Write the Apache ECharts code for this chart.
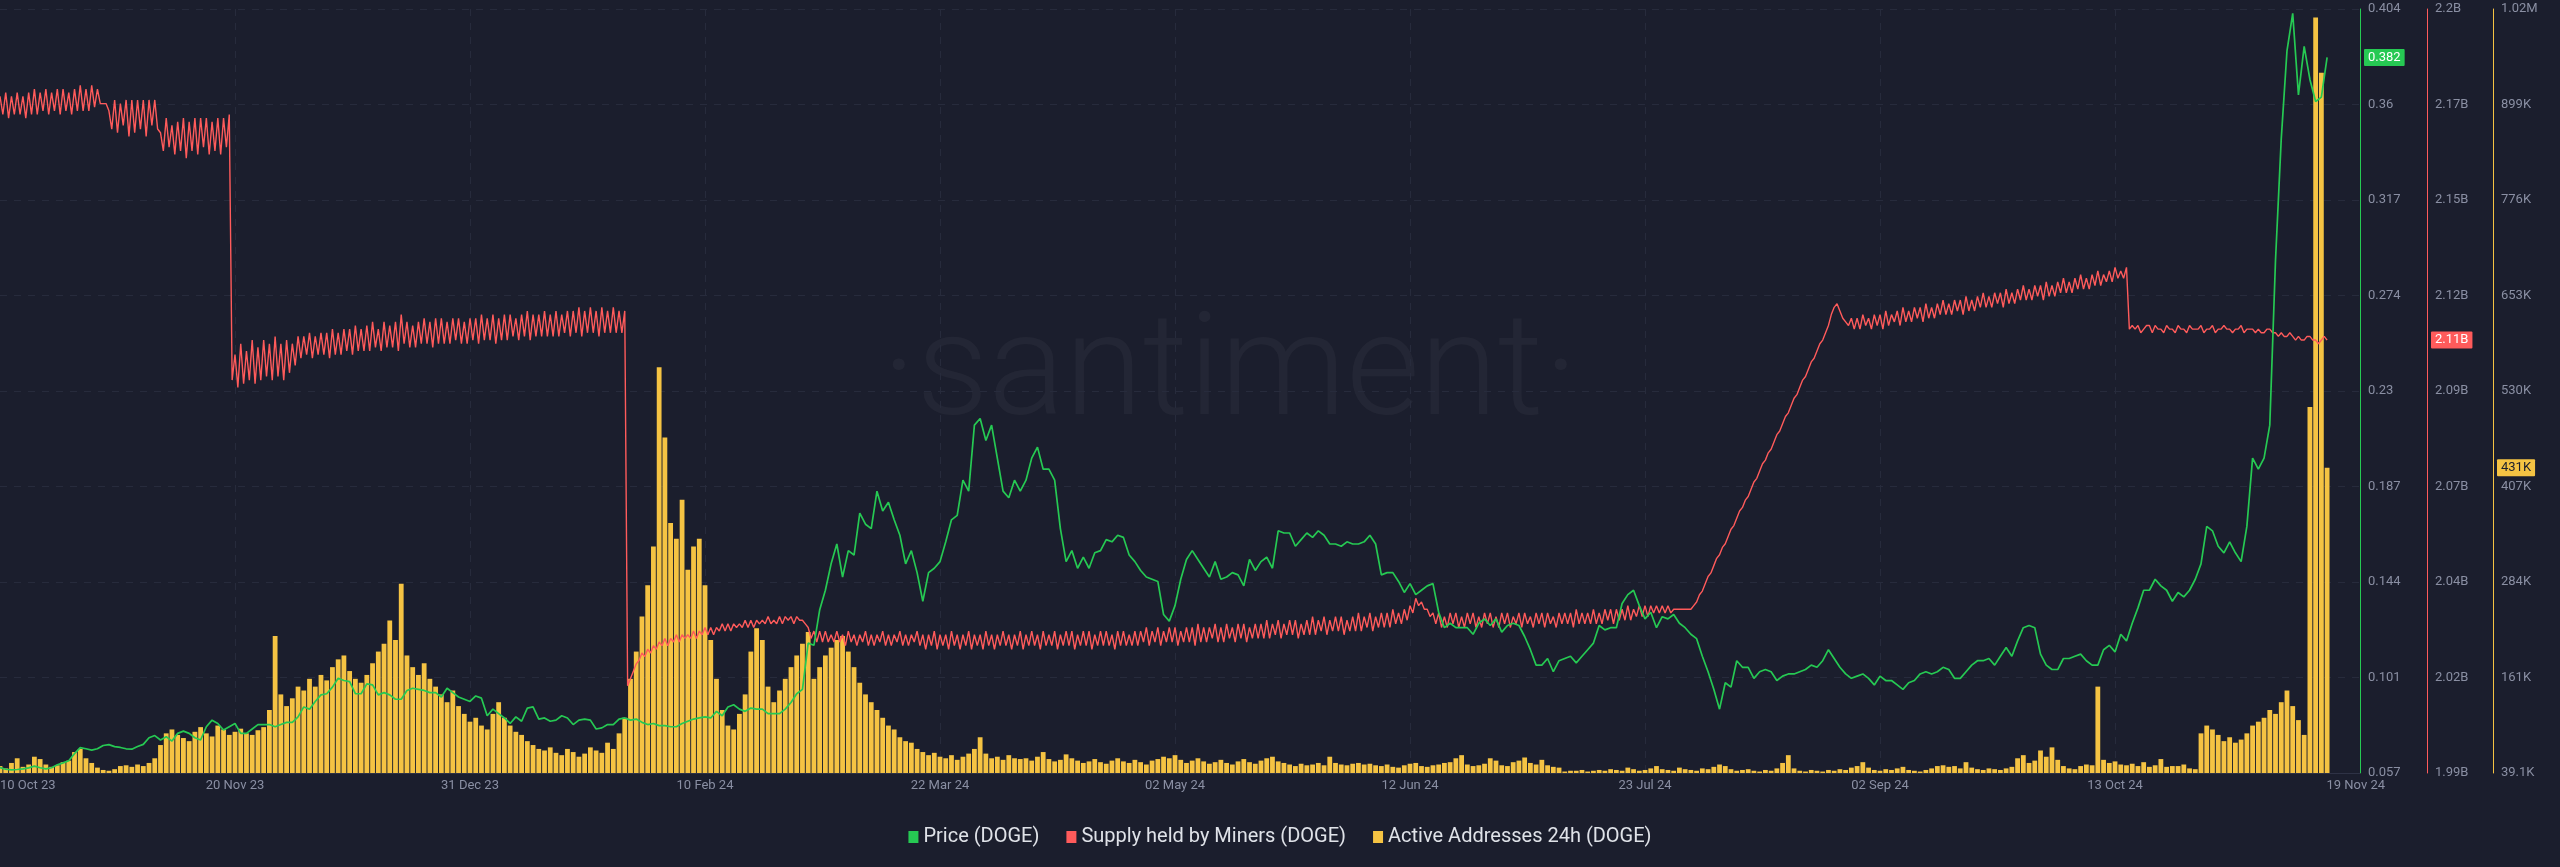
<!DOCTYPE html>
<html>
<head>
<meta charset="utf-8">
<script src="https://cdn.jsdelivr.net/npm/echarts@6/dist/echarts.min.js"></script>
<style>
html,body{margin:0;padding:0;background:#1b1e2d;}
#chart{width:2560px;height:867px;}
</style>
</head>
<body>
<div id="chart"></div>
<script>
// ---------------- DATA ----------------
const startDate = '2023-10-10T00:00:00Z';       // first daily point
const xAxisEnd = '2024-11-24T17:45:00Z';         // right end of the time axis
const xTickDates = ['2023-10-10','2023-11-20','2023-12-31','2024-02-10','2024-03-22','2024-05-02','2024-06-12','2024-07-23','2024-09-02','2024-10-13'];
const xTickLabels = ['10 Oct 23','20 Nov 23','31 Dec 23','10 Feb 24','22 Mar 24','02 May 24','12 Jun 24','23 Jul 24','02 Sep 24','13 Oct 24'];
const xEndLabelDate = '2024-11-24';
const xEndLabel = '19 Nov 24';

const priceTickLabels = ['0.057','0.101','0.144','0.187','0.23','0.274','0.317','0.36','0.404'];
const supplyTickLabels = ['1.99B','2.02B','2.04B','2.07B','2.09B','2.12B','2.15B','2.17B','2.2B'];
const activeTickLabels = ['39.1K','161K','284K','407K','530K','653K','776K','899K','1.02M'];
const priceRange = [0.057, 0.404];
const supplyRange = [1.99e9, 2.2e9];
const activeRange = [39100, 1020000];

// Price (DOGE), USD, daily from 10 Oct 23
const priceDaily = [
0.0595,0.0587,0.0584,0.0586,0.0589,0.0593,0.0601,0.0594,0.0589,0.0594,
0.0607,0.0616,0.0626,0.0658,0.0685,0.0680,0.0674,0.0680,0.0695,0.0699,
0.0690,0.0686,
0.0680,0.0678,0.0690,0.0700,0.0730,0.0740,0.0720,0.0735,0.0715,0.0750,
0.0760,0.0750,0.0730,0.0720,0.0780,0.0810,0.0795,0.0765,0.0780,0.0795,
0.0750,0.0750,0.0770,0.0790,0.0790,0.0790,0.0780,0.0790,0.0800,0.0800,
0.0825,0.0870,0.0860,0.0895,0.0925,0.0930,0.0960,0.1000,0.0990,0.0985,
0.0930,0.0930,0.0975,0.0970,0.0925,0.0935,0.0925,0.0905,0.0905,0.0945,
0.0955,0.0950,0.0945,0.0935,0.0935,0.0915,0.0955,0.0935,0.0915,0.0905,0.0895,
0.0920,0.0910,0.0830,0.0860,0.0840,0.0820,0.0795,0.0825,0.0805,0.0865,
0.0870,0.0815,0.0820,0.0805,0.0810,0.0830,0.0820,0.0790,0.0810,0.0815,
0.0810,0.0770,0.0775,0.0790,0.0790,0.0815,0.0820,0.0810,0.0815,0.0800,0.0790,
0.0795,0.0785,0.0785,0.0780,0.0780,0.0795,0.0805,0.0815,0.0820,0.0825,
0.0820,0.0850,0.0830,0.0870,0.0880,0.0860,0.0850,0.0865,0.0860,0.0860,
0.0840,0.0840,0.0840,0.0860,0.0890,0.0930,0.0950,0.1160,0.1150,
0.1310,0.1400,0.1520,0.1610,0.1460,0.1580,0.1560,0.1750,0.1700,0.1680,
0.1850,0.1760,0.1800,0.1720,0.1650,0.1520,0.1580,0.1480,0.1350,0.1480,
0.1500,0.1530,0.1620,0.1720,0.1740,0.1900,0.1850,0.2150,0.2180,0.2080,0.2150,
0.2000,0.1850,0.1820,0.1900,0.1850,0.1900,0.2000,0.2050,0.1950,0.1950,
0.1900,0.1680,0.1530,0.1580,0.1500,0.1550,0.1500,0.1570,0.1580,0.1630,
0.1620,0.1650,0.1640,0.1560,0.1530,0.1490,0.1460,0.1450,0.1440,0.1290,
0.1260,0.1330,0.1450,0.1540,0.1580,0.1540,0.1500,0.1460,0.1530,0.1450,
0.1460,0.1480,0.1470,0.1420,0.1540,0.1490,0.1530,0.1550,0.1500,0.1670,
0.1660,0.1660,0.1600,0.1630,0.1660,0.1640,0.1670,0.1650,0.1610,0.1610,0.1600,
0.1620,0.1610,0.1610,0.1620,0.1650,0.1610,0.1470,0.1480,0.1480,0.1440,
0.1390,0.1430,0.1380,0.1400,0.1420,0.1430,0.1300,0.1230,0.1250,0.1230,
0.1230,0.1230,0.1200,0.1250,0.1270,0.1240,0.1270,0.1210,0.1240,0.1250,
0.1240,0.1190,0.1130,0.1060,0.1060,0.1090,0.1030,0.1080,0.1090,0.1100,
0.1070,0.1100,0.1130,0.1160,0.1240,0.1220,0.1230,0.1230,0.1340,0.1380,
0.1400,0.1330,0.1270,0.1300,0.1230,0.1280,0.1270,0.1290,0.1250,0.1230,0.1200,
0.1180,0.1100,0.1030,0.0950,0.0860,0.0980,0.0960,0.1080,0.1050,0.1050,
0.1000,0.1030,0.1040,0.1030,0.0990,0.1010,0.1020,0.1020,0.1030,0.1040,
0.1060,0.1050,0.1080,0.1130,0.1090,0.1050,0.1020,0.1000,0.1010,0.1020,0.1000,
0.0970,0.1010,0.0990,0.0990,0.0970,0.0950,0.0980,0.0990,0.1020,0.1030,
0.1020,0.1030,0.1050,0.1040,0.1000,0.1000,0.1030,0.1060,0.1080,0.1080,
0.1090,0.1060,0.1100,0.1140,0.1100,0.1170,0.1230,0.1240,0.1230,0.1110,
0.1060,0.1040,0.1040,0.1090,0.1090,0.1100,0.1110,0.1080,0.1060,0.1060,
0.1130,0.1150,0.1120,0.1200,0.1170,0.1250,0.1320,0.1400,0.1400,0.1450,
0.1420,0.1400,0.1350,0.1390,0.1370,0.1400,0.1450,0.1520,0.1690,0.1670,0.1600,
0.1570,0.1620,0.1570,0.1530,0.1690,0.2000,0.1950,0.2000,0.2150,0.2900,
0.3450,0.3850,0.4020,0.3650,0.3870,0.3720,0.3620,0.3640,0.3820
];

// Supply held by Miners (DOGE), millions of DOGE, every 12 hours from 10 Oct 23
const supplyHalfDayM = [
2176,2171,2177,2170,2176,2171,2177,2171,2176,2170,2177,2171,2178,2171,2177,2172,2178,2171,2177,2172,
2178,2171,2178,2172,2177,2171,2178,2172,2179,2172,2178,2172,2179,2173,2178,2174,2174,2174,2172,2167,
2175,2166,2174,2168,2175,2165,2175,2166,2175,2167,2175,2165,2175,2168,2175,2167,2166,2161,2170,2162,
2168,2160,2169,2161,2170,2159,2169,2161,2170,2160,2170,2162,2170,2160,2169,2161,2170,2160,2170,2162,
2171,2098,2105,2096,2108,2097,2106,2098,2109,2097,2107,2098,2109,2099,2108,2098,2110,2099,2108,2098,
2109,2100,2108,2102,2110,2104,2110,2105,2111,2104,2110,2105,2111,2105,2111,2104,2112,2105,2111,2105,
2112,2106,2112,2105,2113,2106,2112,2106,2113,2106,2114,2107,2112,2106,2114,2107,2113,2107,2114,2106,
2116,2108,2114,2107,2113,2107,2114,2108,2115,2108,2114,2107,2115,2108,2115,2108,2114,2108,2115,2109,
2115,2108,2114,2108,2115,2109,2115,2108,2116,2109,2115,2109,2116,2108,2115,2109,2116,2109,2116,2110,
2115,2109,2116,2110,2117,2109,2116,2110,2116,2110,2117,2110,2116,2110,2117,2110,2116,2111,2117,2110,
2117,2111,2118,2110,2117,2111,2118,2111,2117,2110,2118,2111,2117,2111,2118,2111,2117,2111,2117,2014,
2016,2018,2020,2021,2023,2022,2024,2023,2025,2024,2026,2025,2027,2025,2027,2026,2028,2026,2028,2027,
2028,2027,2029,2027,2029,2028,2030,2028,2030,2028,2030,2029,2031,2029,2031,2029,2031,2030,2031,2030,
2032,2030,2032,2030,2032,2031,2032,2031,2033,2031,2032,2031,2033,2031,2033,2032,2033,2031,2033,2032,
2032,2031,2030,2027,2029,2026,2029,2026,2029,2026,2028,2026,2029,2026,2028,2025,2029,2026,2028,2025,
2028,2026,2029,2025,2028,2025,2028,2026,2029,2025,2028,2025,2028,2026,2029,2025,2028,2025,2028,2026,
2029,2025,2028,2024,2028,2025,2029,2024,2028,2025,2028,2024,2029,2025,2028,2024,2028,2025,2029,2024,
2028,2025,2028,2024,2029,2025,2028,2024,2028,2025,2029,2025,2028,2024,2028,2025,2029,2024,2028,2025,
2029,2025,2028,2024,2029,2025,2028,2025,2029,2024,2028,2025,2029,2025,2029,2024,2028,2025,2029,2025,
2029,2024,2028,2025,2029,2025,2029,2025,2028,2024,2029,2025,2029,2025,2028,2025,2029,2025,2029,2026,
2030,2025,2029,2026,2030,2025,2029,2026,2030,2026,2030,2025,2029,2026,2030,2026,2030,2025,2031,2026,
2030,2026,2030,2027,2031,2026,2030,2026,2031,2027,2030,2026,2031,2027,2031,2026,2030,2027,2031,2027,
2031,2027,2032,2027,2031,2028,2032,2027,2031,2028,2032,2028,2032,2027,2031,2028,2032,2028,2033,2028,
2032,2029,2033,2028,2032,2029,2033,2029,2033,2028,2032,2029,2033,2029,2034,2029,2033,2030,2034,2029,
2033,2030,2034,2030,2034,2030,2035,2031,2034,2031,2035,2032,2036,2034,2038,2036,2037,2035,2035,2033,
2034,2031,2034,2030,2033,2030,2034,2031,2034,2030,2033,2030,2034,2031,2034,2030,2033,2030,2034,2031,
2034,2030,2033,2030,2034,2031,2034,2030,2033,2031,2034,2030,2034,2031,2033,2030,2034,2031,2034,2030,
2034,2031,2033,2030,2034,2031,2034,2031,2034,2030,2035,2031,2034,2031,2034,2031,2035,2031,2034,2031,
2035,2032,2035,2031,2035,2032,2035,2032,2036,2032,2035,2033,2036,2033,2036,2033,2036,2034,2036,2034,
2036,2034,2036,2034,2035,2035,2035,2035,2035,2035,2035,2036,2037,2039,2040,2042,2044,2045,2047,2049,
2050,2052,2053,2055,2057,2058,2060,2062,2063,2065,2066,2068,2070,2071,2073,2075,2076,2078,2079,2081,
2083,2084,2086,2088,2089,2091,2093,2094,2096,2098,2099,2101,2103,2104,2106,2108,2109,2111,2113,2116,
2118,2119,2117,2115,2114,2113,2115,2112,2115,2112,2116,2113,2115,2112,2116,2113,2116,2112,2117,2113,
2116,2114,2117,2113,2118,2114,2117,2114,2118,2115,2118,2114,2119,2115,2118,2115,2119,2116,2120,2116,
2119,2116,2120,2117,2120,2116,2121,2117,2120,2117,2121,2118,2122,2118,2121,2118,2122,2119,2122,2118,
2123,2119,2122,2119,2123,2120,2124,2120,2123,2120,2124,2121,2124,2120,2125,2121,2124,2121,2125,2122,
2126,2122,2125,2122,2126,2123,2127,2123,2126,2123,2127,2124,2128,2124,2127,2125,2128,2125,2129,2126,
2128,2126,2129,2112,2113,2112,2113,2111,2112,2113,2113,2111,2113,2112,2112,2111,2113,2112,2112,2111,
2113,2112,2112,2111,2113,2112,2112,2112,2113,2111,2112,2112,2113,2111,2112,2112,2113,2112,2112,2111,
2112,2112,2113,2111,2112,2112,2112,2111,2112,2111,2111,2112,2112,2111,2111,2110,2111,2110,2110,2111,
2110,2109,2110,2109,2109,2110,2110,2109,2109,2108,2109,2110,2109
];

// Active Addresses 24h (DOGE), thousands, daily from 10 Oct 23
const activeDailyK = [
48,45,52,58,47,50,60,57,50,47,
49,53,55,66,70,58,52,46,43,42,
44,48,49,47,50,48,52,58,75,90,
95,88,84,80,92,98,90,86,100,95,
88,92,96,90,88,94,98,120,215,140,
125,135,150,145,160,150,165,158,175,185,
190,170,160,155,165,180,195,205,235,210,
282,190,175,165,180,160,150,140,130,145,
125,115,105,110,100,95,115,130,110,100,
92,88,80,75,70,68,72,65,62,70,
66,60,64,72,68,65,78,70,90,110,
160,195,240,280,330,560,470,360,340,390,
300,330,340,280,210,160,120,100,95,115,
140,195,225,210,150,130,145,160,175,190,
205,220,160,175,190,200,210,215,195,175,
155,140,130,120,110,100,95,85,80,78,
70,66,62,65,60,58,62,56,60,64,
70,85,64,58,60,56,62,58,57,58,
55,60,66,57,54,56,63,58,55,52,
54,57,53,51,55,58,54,52,56,53,
50,55,57,60,58,62,56,52,55,58,
54,51,53,56,52,50,54,57,53,51,
55,58,60,54,52,50,48,51,49,50,
52,49,60,52,50,49,51,52,50,51,
49,48,50,47,46,49,51,52,48,47,
49,50,52,53,58,62,50,48,49,51,
58,55,49,48,53,55,59,52,50,56,
49,47,46,41,42,42,43,41,42,43,
42,44,43,42,46,44,42,43,45,48,
44,43,42,46,44,43,42,45,44,47,
50,48,44,42,43,44,42,41,43,42,
45,52,62,45,42,41,43,42,41,43,
42,44,43,46,48,53,46,43,42,44,
43,45,47,43,42,41,43,45,48,49,
47,48,45,53,46,44,43,45,44,43,
45,47,58,62,52,55,68,60,72,56,
48,45,44,48,50,49,150,56,52,54,
50,49,51,48,53,47,49,57,47,48,
48,50,45,44,90,100,95,88,80,85,
78,82,90,100,105,110,120,115,130,145,
125,107,88,509,1009,938,431
];

// ---------------- BUILD ----------------
const DAY = 86400000;
const t0 = Date.parse(startDate);
const priceData = priceDaily.map((v, i) => [t0 + i * DAY, v]);
const supplyData = supplyHalfDayM.map((v, i) => [t0 + i * DAY / 2, v * 1e6]);
const activeData = activeDailyK.map((v, i) => [t0 + i * DAY, v * 1000]);

const tickTimes = xTickDates.map(d => Date.parse(d + 'T00:00:00Z'));
const labelTimes = tickTimes.concat([Date.parse(xEndLabelDate + 'T00:00:00Z')]);
const labelTexts = xTickLabels.concat([xEndLabel]);
function xLabel(v) {
  let best = '', bd = Infinity;
  labelTimes.forEach((t, i) => { const d = Math.abs(t - v); if (d < bd) { bd = d; best = labelTexts[i]; } });
  return bd < DAY / 2 ? best : '';
}

function evenTicks(range, labels) {
  const n = labels.length - 1, out = [];
  for (let i = 0; i <= n; i++) out.push(range[0] + (range[1] - range[0]) * i / n);
  return out;
}
function tickFormatter(range, labels) {
  const n = labels.length - 1;
  return v => labels[Math.round((v - range[0]) / (range[1] - range[0]) * n)] || '';
}

const C_GREEN = '#26c953', C_RED = '#ff5b5b', C_YELLOW = '#f5c343';
const LABEL_COLOR = '#8a8fa3';
const GRID_LINE = '#272b3c';
const FONT = 'Roboto';

function yAxisCfg(range, labels, color, offset, split, pointerValue, pointerFmt, pointerBg, pointerText) {
  const ticks = evenTicks(range, labels);
  return {
    type: 'value', position: 'right', offset: offset,
    min: range[0], max: range[1],
    axisLine: { show: true, lineStyle: { color: color, width: 1 } },
    axisTick: { show: false, customValues: ticks },
    axisLabel: { customValues: ticks, formatter: tickFormatter(range, labels), color: LABEL_COLOR, fontSize: 13, fontFamily: FONT, margin: 8 },
    splitLine: { show: split, lineStyle: { color: GRID_LINE, type: [7, 7], width: 1 } },
    axisPointer: {
      show: true, status: 'show', value: pointerValue, triggerTooltip: false, type: 'line',
      lineStyle: { opacity: 0, width: 0 },
      label: { show: true, formatter: p => pointerFmt(p.value), backgroundColor: pointerBg, color: pointerText,
               fontSize: 13, fontFamily: FONT, padding: [2, 4, 2, 4], margin: 4, borderRadius: 1, shadowBlur: 0 }
    }
  };
}

const chart = echarts.init(document.getElementById('chart'), null, { renderer: 'canvas' });
chart.setOption({
  backgroundColor: '#1b1e2d',
  animation: false,
  textStyle: { fontFamily: FONT },
  grid: { left: 0, right: 200, top: 9, bottom: 94, containLabel: false, outerBoundsMode: 'none' },
  graphic: [{
    type: 'text', x: 1230, y: 378, silent: true, z: 0,
    style: { text: '·santiment·', fill: 'rgba(255,255,255,0.038)', font: '300 142px Roboto', align: 'center', verticalAlign: 'middle' }
  }],
  legend: {
    top: 822, left: 'center', icon: 'rect', itemWidth: 10, itemHeight: 12, itemGap: 27,
    textStyle: { color: '#dfe2e8', fontSize: 20, fontFamily: FONT },
    data: ['Price (DOGE)', 'Supply held by Miners (DOGE)', 'Active Addresses 24h (DOGE)']
  },
  xAxis: {
    type: 'value', min: t0, max: Date.parse(xAxisEnd),
    axisLine: { show: true, lineStyle: { color: '#2e3245', width: 1 } },
    axisTick: { show: false, customValues: tickTimes.slice(1) },
    splitLine: { show: true, lineStyle: { color: GRID_LINE, type: [7, 7], width: 1 } },
    axisLabel: { customValues: labelTimes, formatter: v => xLabel(v), color: LABEL_COLOR, fontSize: 13, fontFamily: FONT, margin: 6, alignMinLabel: 'left', hideOverlap: false }
  },
  yAxis: [
    yAxisCfg(priceRange, priceTickLabels, C_GREEN, 0, true, priceDaily[priceDaily.length - 1], v => (+v).toFixed(3), C_GREEN, '#ffffff'),
    yAxisCfg(supplyRange, supplyTickLabels, C_RED, 67, false, supplyHalfDayM[supplyHalfDayM.length - 1] * 1e6, v => (v / 1e9).toFixed(2) + 'B', C_RED, '#ffffff'),
    yAxisCfg(activeRange, activeTickLabels, C_YELLOW, 133, false, activeDailyK[activeDailyK.length - 1] * 1000, v => Math.round(v / 1000) + 'K', C_YELLOW, '#1b1e2d')
  ],
  series: [
    { name: 'Price (DOGE)', type: 'line', yAxisIndex: 0, data: priceData, showSymbol: false, symbol: 'none', z: 4,
      lineStyle: { color: C_GREEN, width: 1.7 }, itemStyle: { color: C_GREEN } },
    { name: 'Supply held by Miners (DOGE)', type: 'line', yAxisIndex: 1, data: supplyData, showSymbol: false, symbol: 'none', z: 3,
      lineStyle: { color: C_RED, width: 1.4 }, itemStyle: { color: C_RED } },
    { name: 'Active Addresses 24h (DOGE)', type: 'bar', yAxisIndex: 2, data: activeData, barWidth: 4.8, z: 2,
      itemStyle: { color: C_YELLOW } }
  ]
});
</script>
</body>
</html>
